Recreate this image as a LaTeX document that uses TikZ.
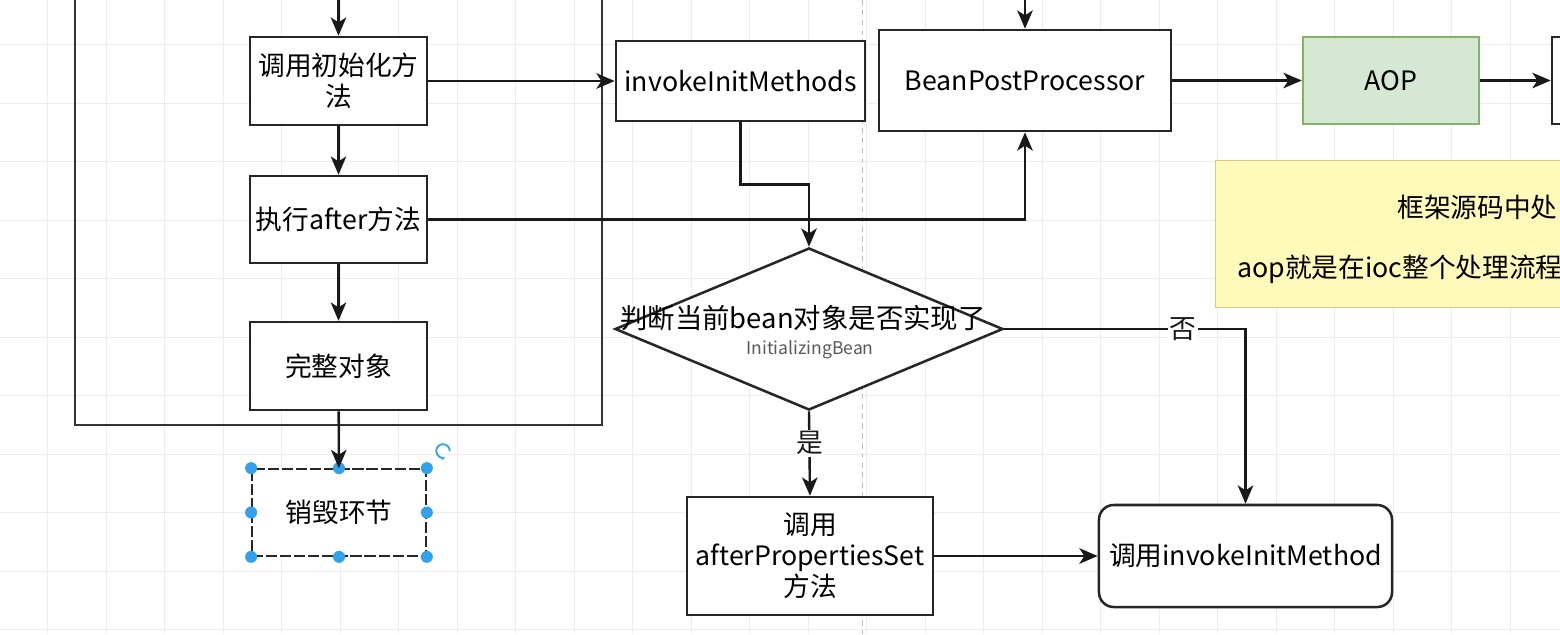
\documentclass[tikz,border=0pt]{standalone}
\usepackage{fontspec}
\setmainfont{Noto Sans CJK SC}
\usetikzlibrary{arrows.meta,calc,shapes.geometric}
\definecolor{aopfill}{HTML}{D5E8D4}
\definecolor{aopline}{HTML}{82B366}
\definecolor{notefill}{RGB}{255,250,185}
\definecolor{noteline}{RGB}{214,204,130}
\definecolor{handlecol}{RGB}{50,160,235}

\begin{document}
\begin{tikzpicture}[x=0.025cm,y=-0.025cm,>={Stealth[length=13pt,width=11pt,inset=3.5pt]},
  box/.style={draw=black!85,line width=1.8pt,fill=white,align=center,inner sep=1pt,font=\fontsize{19}{22}\selectfont},
  flow/.style={->,line width=1.7pt,black!90},
  tag/.style={fill=white,inner sep=1pt,font=\fontsize{19}{22}\selectfont}]
  \useasboundingbox (0,0) rectangle (1560,634);
  \clip (0,0) rectangle (1560,634);
  % grid and page break
  \foreach \gx in {47.5,106,...,1560} \draw[black!7] (\gx,0) -- (\gx,634);
  \foreach \gy in {44.5,103,...,634} \draw[black!7] (0,\gy) -- (1560,\gy);
  \draw[black!25,dash pattern=on 4pt off 3pt] (862,0) -- (862,634);

  % bean life cycle container
  \draw[black!80,line width=1.4pt] (75,-10) rectangle (602,425);
  \node[box,minimum width=4.425cm,minimum height=2.2cm] (init) at (338.5,81) {调用初始化方\\法};
  \node[box,minimum width=4.425cm,minimum height=2.175cm] (after) at (338.5,219.5) {执行after方法};
  \node[box,minimum width=4.425cm,minimum height=2.2cm] (full) at (338.5,366) {完整对象};
  \node[box,line width=1.2pt,dash pattern=on 8pt off 2pt,minimum width=4.35cm,minimum height=2.175cm] (destroy) at (339,512.5) {销毁环节};
  \foreach \a in {north west,north,north east,east,south east,south,south west,west}
    \fill[handlecol] (destroy.\a) circle (0.15cm);
  \draw[handlecol,line width=1.3pt,-{Stealth[length=3pt]}] ([shift={(0.17cm,0)}]443,451) arc[start angle=0,end angle=290,radius=0.17cm];

  \node[box,minimum width=6.225cm,minimum height=2cm] (invoke) at (740.5,81) {invokeInitMethods};
  \node[box,minimum width=7.3cm,minimum height=2.525cm] (bpp) at (1025,80.5) {BeanPostProcessor};
  \node[box,draw=aopline,fill=aopfill,minimum width=4.4cm,minimum height=2.175cm] (aop) at (1391,80.5) {AOP};
  \node[box,minimum width=3cm,minimum height=2.175cm] (next) at (1612,80.5) {};

  % note
  \node[draw=noteline,fill=notefill,line width=1pt,minimum width=10.5cm,minimum height=3.675cm,anchor=north west] (note) at (1215,160) {};
  \node[anchor=west,inner sep=0pt,font=\fontsize{19}{22}\selectfont] (note1) at (1397,207) {框架源码中处};
  \node[anchor=west,inner sep=0pt,font=\fontsize{19}{22}\selectfont] (note2) at (1237,269) {aop就是在ioc整个处理流程};

  % decision
  \node[draw=black!85,line width=1.8pt,fill=white,diamond,minimum width=9.7cm,minimum height=4.05cm,inner sep=0pt] (check) at (809,329) {};
  \node[font=\fontsize{19.5}{22}\selectfont,inner sep=0pt] (checktxt) at (803,318) {判断当前bean对象是否实现了};
  \node[font=\fontsize{12.5}{14}\selectfont,text=black!65,inner sep=0pt] (checksub) at (810,350) {InitializingBean};
  \node[box,minimum width=6.15cm,minimum height=2.95cm] (aps) at (810,556) {调用\\afterPropertiesSet\\方法};
  \node[box,rounded corners=0.37cm,minimum width=7.325cm,minimum height=2.55cm] (custom) at (1245.5,556) {调用invokeInitMethod};

  \coordinate (topinit) at (338.5,-5);
  \coordinate (topbpp) at (1025,-5);

  % connectors
  \draw[flow] (topinit) -- (init);
  \draw[flow] (init) -- (after);
  \draw[flow] (after) -- (full);
  \draw[flow] (full) -- (destroy);
  \draw[flow] (init) -- (invoke);
  \draw[flow] (topbpp) -- (bpp);
  \draw[flow] (after.east) -| (bpp.south);
  \draw[flow] (bpp) -- (aop);
  \draw[flow] (aop) -- (next);
  \draw[flow] (invoke.south) |- ($(invoke.south)!.5!(check.north)$) -| (check.north);
  \draw[flow] (check.south) -- node[tag,pos=0.38] {是} (aps.north);
  \draw[flow] (check.east) -| node[tag,pos=0.37] {否} (custom.north);
  \draw[flow] (aps) -- (custom);
\end{tikzpicture}
\end{document}
